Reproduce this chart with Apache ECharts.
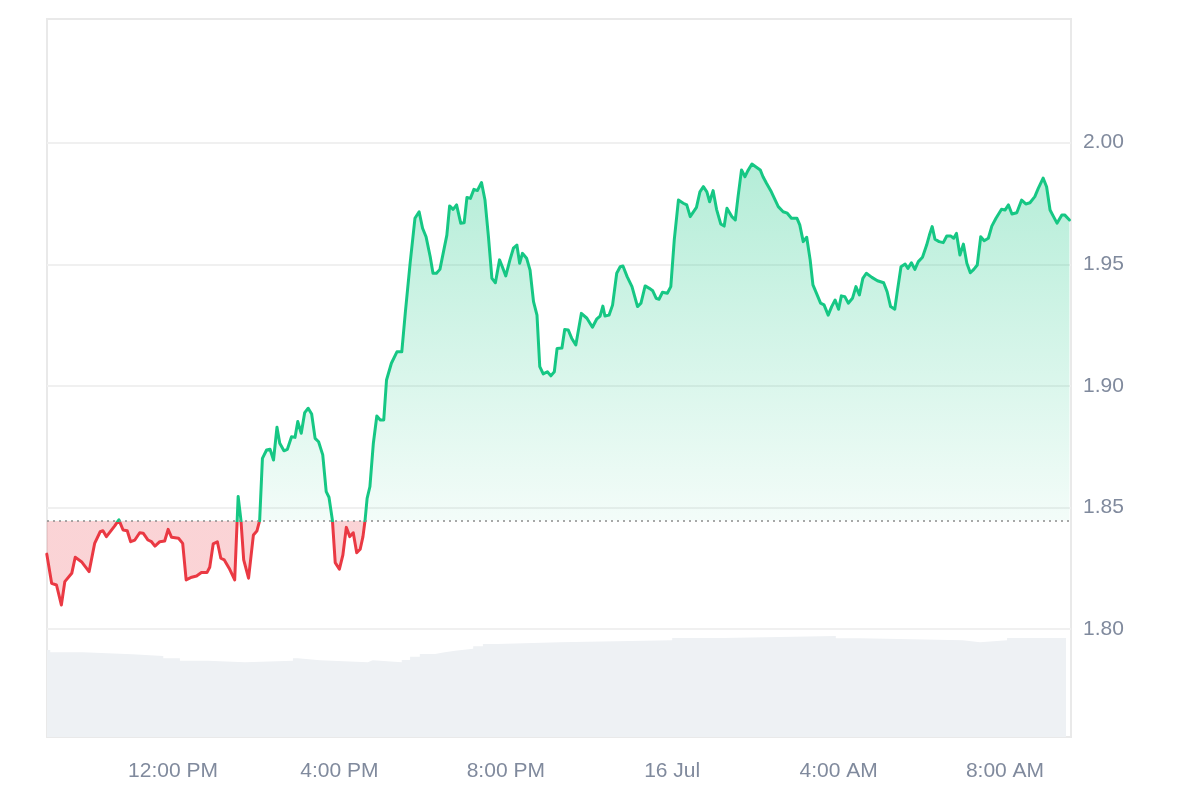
<!DOCTYPE html>
<html>
<head>
<meta charset="utf-8">
<script src="https://cdn.jsdelivr.net/npm/echarts@6/dist/echarts.min.js"></script>
<style>
html,body{margin:0;padding:0;background:#ffffff;}
#chart{width:1200px;height:800px;}
</style>
</head>
<body>
<div id="chart"></div>
<script>
// ---- Data ----
const priceTimes = [
'15 08:58','15 09:05','15 09:12','15 09:19','15 09:24','15 09:34','15 09:39','15 09:48','15 09:59','15 10:07',
'15 10:15','15 10:19','15 10:24','15 10:36','15 10:42','15 10:48','15 10:54','15 10:59','15 11:05','15 11:12',
'15 11:17','15 11:24','15 11:29','15 11:34','15 11:41','15 11:48','15 11:53','15 11:58','15 12:08','15 12:14',
'15 12:19','15 12:27','15 12:34','15 12:41','15 12:49','15 12:53','15 12:58','15 13:04','15 13:09','15 13:14',
'15 13:21','15 13:29','15 13:34','15 13:38','15 13:42','15 13:49','15 13:56','15 14:01','15 14:05','15 14:09',
'15 14:15','15 14:20','15 14:25','15 14:30','15 14:34','15 14:40','15 14:45','15 14:51','15 14:56','15 15:00',
'15 15:05','15 15:10','15 15:15','15 15:20','15 15:25','15 15:30','15 15:36','15 15:41','15 15:45','15 15:50',
'15 15:54','15 16:00','15 16:05','15 16:10','15 16:15','15 16:20','15 16:25','15 16:30','15 16:34','15 16:37',
'15 16:40','15 16:44','15 16:49','15 16:54','15 16:59','15 17:04','15 17:08','15 17:15','15 17:23','15 17:30',
'15 17:35','15 17:42','15 17:49','15 17:55','15 18:00','15 18:05','15 18:11','15 18:15','15 18:20','15 18:25',
'15 18:35','15 18:39','15 18:44','15 18:49','15 18:55','15 19:00','15 19:04','15 19:09','15 19:14','15 19:19',
'15 19:25','15 19:30','15 19:35','15 19:40','15 19:45','15 19:51','15 19:55','15 20:00','15 20:06','15 20:11',
'15 20:16','15 20:20','15 20:24','15 20:30','15 20:35','15 20:40','15 20:45','15 20:49','15 20:54','15 21:00',
'15 21:05','15 21:10','15 21:14','15 21:21','15 21:25','15 21:30','15 21:35','15 21:41','15 21:49','15 21:57',
'15 22:05','15 22:11','15 22:16','15 22:20','15 22:23','15 22:29','15 22:34','15 22:40','15 22:45','15 22:49',
'15 22:55','15 23:02','15 23:10','15 23:15','15 23:21','15 23:27','15 23:32','15 23:37','15 23:41','15 23:46',
'15 23:53','15 23:58','16 00:03','16 00:09','16 00:16','16 00:21','16 00:26','16 00:35','16 00:40','16 00:45',
'16 00:50','16 00:54','16 00:59','16 01:04','16 01:10','16 01:15','16 01:19','16 01:26','16 01:31','16 01:35',
'16 01:40','16 01:45','16 01:49','16 01:55','16 02:01','16 02:07','16 02:11','16 02:16','16 02:23','16 02:33',
'16 02:40','16 02:46','16 02:52','16 03:00','16 03:04','16 03:09','16 03:14','16 03:19','16 03:23','16 03:28',
'16 03:34','16 03:39','16 03:45','16 03:50','16 03:55','16 04:00','16 04:04','16 04:09','16 04:14','16 04:20',
'16 04:25','16 04:30','16 04:35','16 04:40','16 04:48','16 04:56','16 05:05','16 05:10','16 05:15','16 05:21',
'16 05:25','16 05:30','16 05:36','16 05:40','16 05:45','16 05:50','16 05:55','16 06:01','16 06:07','16 06:11',
'16 06:15','16 06:19','16 06:25','16 06:31','16 06:36','16 06:42','16 06:46','16 06:50','16 06:55','16 07:00',
'16 07:05','16 07:10','16 07:15','16 07:20','16 07:25','16 07:30','16 07:36','16 07:41','16 07:47','16 07:55',
'16 08:00','16 08:05','16 08:10','16 08:17','16 08:24','16 08:30','16 08:36','16 08:43','16 08:48','16 08:55',
'16 09:00','16 09:05','16 09:10','16 09:15','16 09:22','16 09:26','16 09:33'
];
const priceValues = [
1.8308,1.8188,1.8181,1.8099,1.8195,1.8229,1.8295,1.8277,1.8236,1.8352,
1.8400,1.8404,1.8380,1.8424,1.8449,1.8407,1.8404,1.8359,1.8366,1.8396,
1.8394,1.8366,1.8359,1.8341,1.8359,1.8362,1.8410,1.8377,1.8373,1.8352,
1.8202,1.8213,1.8218,1.8232,1.8232,1.8254,1.8350,1.8359,1.8291,1.8284,
1.8250,1.8202,1.8545,1.8448,1.8284,1.8209,1.8387,1.8403,1.8446,1.8702,
1.8736,1.8739,1.8695,1.8830,1.8764,1.8733,1.8739,1.8791,1.8788,1.8853,
1.8805,1.8890,1.8908,1.8884,1.8784,1.8770,1.8716,1.8565,1.8542,1.8446,
1.8273,1.8246,1.8304,1.8418,1.8380,1.8396,1.8314,1.8328,1.8380,1.8446,
1.8537,1.8585,1.8764,1.8876,1.8860,1.8860,1.9024,1.9093,1.9140,1.9140,
1.9298,1.9504,1.9689,1.9716,1.9648,1.9613,1.9531,1.9463,1.9463,1.9479,
1.9620,1.9740,1.9726,1.9744,1.9669,1.9671,1.9775,1.9771,1.9808,1.9803,
1.9836,1.9764,1.9613,1.9442,1.9424,1.9518,1.9490,1.9452,1.9518,1.9566,
1.9579,1.9504,1.9545,1.9525,1.9476,1.9346,1.9291,1.9079,1.9049,1.9058,
1.9041,1.9058,1.9154,1.9156,1.9232,1.9230,1.9196,1.9168,1.9298,1.9278,
1.9241,1.9274,1.9287,1.9328,1.9287,1.9291,1.9332,1.9463,1.9490,1.9493,
1.9449,1.9408,1.9326,1.9340,1.9411,1.9401,1.9391,1.9360,1.9356,1.9385,
1.9381,1.9408,1.9600,1.9764,1.9751,1.9744,1.9696,1.9734,1.9798,1.9819,
1.9798,1.9757,1.9803,1.9726,1.9666,1.9657,1.9730,1.9696,1.9682,1.9778,
1.9888,1.9860,1.9884,1.9912,1.9900,1.9888,1.9860,1.9833,1.9798,1.9737,
1.9716,1.9710,1.9689,1.9689,1.9662,1.9593,1.9611,1.9518,1.9415,1.9381,
1.9340,1.9333,1.9291,1.9326,1.9353,1.9315,1.9370,1.9367,1.9340,1.9360,
1.9408,1.9374,1.9442,1.9463,1.9446,1.9432,1.9424,1.9387,1.9326,1.9315,
1.9394,1.9490,1.9501,1.9483,1.9506,1.9479,1.9511,1.9529,1.9579,1.9620,
1.9655,1.9603,1.9593,1.9589,1.9616,1.9616,1.9607,1.9627,1.9538,1.9583,
1.9504,1.9465,1.9479,1.9497,1.9613,1.9597,1.9607,1.9657,1.9689,1.9726,
1.9723,1.9744,1.9707,1.9712,1.9764,1.9748,1.9753,1.9778,1.9812,1.9854,
1.9819,1.9723,1.9696,1.9669,1.9703,1.9703,1.9682
];
const volumeTimes = [
'15 08:58','15 09:03','15 09:50','15 11:01','15 11:46','15 12:10','15 12:50','15 13:44','15 14:53','15 15:00',
'15 15:32','15 16:41','15 16:48','15 17:30','15 17:42','15 17:56','15 18:18','15 18:32','15 18:47','15 19:13',
'15 19:27','15 19:47','15 21:18','16 00:00','16 01:13','16 03:56','16 04:31','16 06:59','16 07:24','16 08:03',
'16 09:28'
];
const volumeValues = [
87,84.7,82.7,81,78.7,76.3,74.7,76.3,78.7,76.7,
74.7,76.7,74.7,77,80.3,83,84.7,86.3,88.3,90.7,
93,94.7,96.7,99,101,98.7,96.7,94.7,96.7,99,
99
];
const referencePrice = 1.8446;
const yTicks = [1.80, 1.85, 1.90, 1.95, 2.00];
const xTickHours = [12, 16, 20, 0, 4, 8];
const xTickLabels = ['12:00 PM', '4:00 PM', '8:00 PM', '16 Jul', '4:00 AM', '8:00 AM'];
const axisStartStr = '15 08:58:18';
const axisEndStr = '16 09:35:12';

// ---- helpers ----
function tp(s) {
  const parts = s.split(' ');
  const hms = parts[1].split(':').map(Number);
  return new Date(2024, 6, Number(parts[0]), hms[0], hms[1], hms[2] || 0).getTime();
}
const priceData = priceTimes.map((s, i) => [tp(s), priceValues[i]]);
const volumeData = volumeTimes.map((s, i) => [tp(s), volumeValues[i]]);
const maxP = Math.max.apply(null, priceValues);
const minP = Math.min.apply(null, priceValues);
// fraction of the price range (top = max, bottom = min) where the reference price sits
const splitOff = (maxP - referencePrice) / (maxP - minP);

const GREEN = '#16c784';
const RED = '#ea3943';
const LABEL_COLOR = '#808a9d';
const FONT = 'Liberation Sans, Arial, Helvetica, sans-serif';

const lineGradient = new echarts.graphic.LinearGradient(0, 0, 0, 1, [
  {offset: 0, color: GREEN},
  {offset: splitOff, color: GREEN},
  {offset: splitOff, color: RED},
  {offset: 1, color: RED}
]);
const areaGradient = new echarts.graphic.LinearGradient(0, 0, 0, 1, [
  {offset: 0, color: 'rgba(22,199,132,0.32)'},
  {offset: splitOff, color: 'rgba(22,199,132,0.05)'},
  {offset: splitOff, color: 'rgba(234,57,67,0.22)'},
  {offset: 1, color: 'rgba(234,57,67,0.22)'}
]);

const chart = echarts.init(document.getElementById('chart'), null, {renderer: 'canvas'});
chart.setOption({
  animation: false,
  backgroundColor: '#ffffff',
  grid: [
    {left: 47, width: 1024, top: 21.1, height: 729.5, show: false},
    {left: 47, width: 1024, top: 19, height: 718, show: true, borderColor: '#e9e9e9', borderWidth: 2, backgroundColor: 'rgba(0,0,0,0)'}
  ],
  xAxis: [
    {type: 'time', gridIndex: 0, min: tp(axisStartStr), max: tp(axisEndStr), show: false},
    {type: 'time', gridIndex: 1, min: tp(axisStartStr), max: tp(axisEndStr),
     minInterval: 4 * 3600 * 1000, maxInterval: 4 * 3600 * 1000,
     axisLine: {show: false}, axisTick: {show: false}, splitLine: {show: false},
     axisLabel: {
       margin: 24, fontSize: 21, color: LABEL_COLOR, fontFamily: FONT,
       showMinLabel: false, showMaxLabel: false, hideOverlap: false,
       formatter: function (value) {
         const d = new Date(value);
         if (d.getMinutes() !== 0 || d.getSeconds() !== 0) return '';
         const idx = xTickHours.indexOf(d.getHours());
         return idx >= 0 ? xTickLabels[idx] : '';
       }
     }}
  ],
  yAxis: [
    {type: 'value', gridIndex: 0, position: 'right', min: 1.75, max: 2.05, interval: 0.05,
     axisLine: {show: false}, axisTick: {show: false},
     splitLine: {show: true, showMinLine: false, showMaxLine: false, lineStyle: {color: '#f0f0f0', width: 2}},
     axisLabel: {
       showMinLabel: false, showMaxLabel: false, margin: 12, fontSize: 21, color: LABEL_COLOR, fontFamily: FONT,
       formatter: function (v) {
         const hit = yTicks.find(t => Math.abs(t - v) < 1e-6);
         return hit !== undefined ? hit.toFixed(2) : '';
       }
     }},
    {type: 'value', gridIndex: 1, min: 0, max: 718, show: false}
  ],
  series: [
    {
      name: 'Price', type: 'line', xAxisIndex: 0, yAxisIndex: 0, data: priceData,
      showSymbol: false, symbol: 'none', z: 3,
      lineStyle: {width: 3, join: 'round', cap: 'round', color: lineGradient},
      areaStyle: {origin: referencePrice, opacity: 1, color: areaGradient},
      markLine: {
        silent: true, symbol: ['none', 'none'], label: {show: false}, precision: 4,
        lineStyle: {color: '#8c8c8c', type: [2, 4], width: 1.5},
        emphasis: {disabled: true},
        data: [{yAxis: referencePrice}]
      }
    },
    {
      name: 'Volume', type: 'line', xAxisIndex: 1, yAxisIndex: 1, data: volumeData,
      step: 'end', showSymbol: false, symbol: 'none', silent: true, z: 1,
      lineStyle: {width: 0}, itemStyle: {color: '#eef1f4'},
      areaStyle: {color: '#eef1f4', opacity: 1}
    }
  ]
});
</script>
</body>
</html>
